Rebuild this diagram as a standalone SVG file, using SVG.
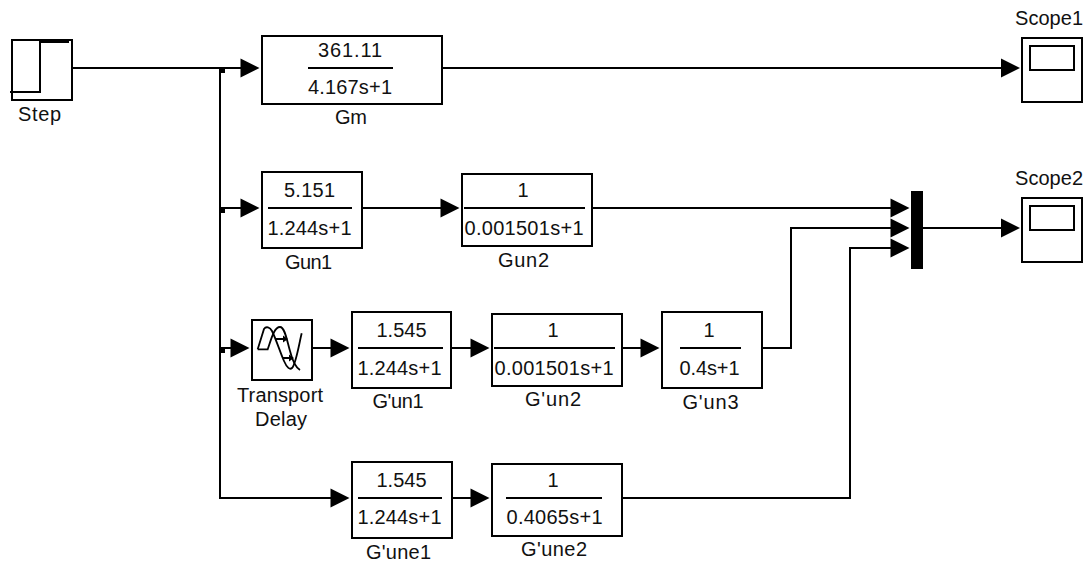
<svg xmlns="http://www.w3.org/2000/svg" width="1091" height="566" viewBox="0 0 1091 566">
<style>
.b{fill:#fff;stroke:#000;stroke-width:2}
.l{fill:none;stroke:#000;stroke-width:2}
.t{fill:none;stroke:#000;stroke-width:1.8}
text{font-family:"Liberation Sans",Arial,sans-serif;font-size:20px;fill:#111;text-anchor:middle}
</style>
<defs>
<path id="a" d="M-19-9.5L0 0L-19 9.5Z" fill="#000"/>
</defs>
<rect width="1091" height="566" fill="#fff"/>
<g id="connectors">
<path class="l" d="M70 68H241M440 68H1002M220 68V498H331M220 208H241M360 208H441M220 348H231M312 348H331M450 348H471M620 348H641M760 348H791V228H891M590 208H891M923 228H1002M450 498H471M620 498H850V248H891"/>
<path d="M220 67h5v6h-5zM220 207h5v6h-5zM220 347h5v6h-5z" fill="#000"/>
<use href="#a" x="259.500" y="68"/><use href="#a" x="259.500" y="208"/><use href="#a" x="249.500" y="348"/><use href="#a" x="349.500" y="348"/><use href="#a" x="489.500" y="348"/><use href="#a" x="659.500" y="348"/><use href="#a" x="349.500" y="498"/><use href="#a" x="489.500" y="498"/><use href="#a" x="459.500" y="208"/><use href="#a" x="1020" y="68"/><use href="#a" x="1020" y="228"/><use href="#a" x="909.500" y="208"/><use href="#a" x="909.500" y="228"/><use href="#a" x="909.500" y="248"/>
</g>
<g id="step"><rect class="b" x="12" y="40" width="60" height="60"/><path class="l" d="M10 92H40V42H69"/><text x="39.500" y="120.500" textLength="43">Step</text></g>
<g id="gm"><rect class="b" x="262" y="36" width="180" height="68"/><path class="l" d="M308 68H393"/><text x="350" y="57" textLength="64">361.11</text><text x="350" y="94" textLength="84">4.167s+1</text><text x="351" y="124" textLength="32">Gm</text></g>
<g id="gun1"><rect class="b" x="262" y="172" width="100" height="76"/><path class="l" d="M268 208H352"/><text x="309.500" y="197" textLength="51">5.151</text><text x="309.500" y="235" textLength="84">1.244s+1</text><text x="308.500" y="269" textLength="47">Gun1</text></g>
<g id="gun2"><rect class="b" x="462" y="174" width="130" height="72"/><path class="l" d="M464 208H585"/><text x="523" y="197">1</text><text x="524" y="235" textLength="119">0.001501s+1</text><text x="523.500" y="267" textLength="51">Gun2</text></g>
<g id="delay"><rect class="b" x="252" y="320" width="60" height="60"/><path class="t" d="M257.700 349.300L264 329C266 326 270 327 272 331C276 339 280 352 284 361C287 368 290 370 292 368C296 364 299 344 301.700 333.300"/><path class="t" d="M257.700 349.300H267.700C271 340 274 327 280 327C285 327 287 341 290 351C292 359 295 367 300 370"/><path class="t" d="M276 339H284M283 358H290"/><path d="M283 335.500L288 339L283 342.500ZM289 354.500L294 358L289 361.500Z" fill="#000"/><text x="280" y="401.500" textLength="86">Transport</text><text x="281" y="426" textLength="52">Delay</text></g>
<g id="gpun1"><rect class="b" x="352" y="312" width="99" height="76"/><path class="l" d="M358 348H443"/><text x="401.500" y="337" textLength="50">1.545</text><text x="399.500" y="375" textLength="84">1.244s+1</text><text x="398" y="408" textLength="51">G'un1</text></g>
<g id="gpun2"><rect class="b" x="492" y="314" width="130" height="72"/><path class="l" d="M494 348H615"/><text x="553" y="337">1</text><text x="554" y="374.500" textLength="119">0.001501s+1</text><text x="553" y="406" textLength="56">G'un2</text></g>
<g id="gpun3"><rect class="b" x="662" y="312" width="100" height="76"/><path class="l" d="M680 348H741"/><text x="709" y="337">1</text><text x="709.500" y="374.500" textLength="60">0.4s+1</text><text x="710.500" y="409" textLength="56">G'un3</text></g>
<g id="gpune1"><rect class="b" x="352" y="462" width="100" height="76"/><path class="l" d="M358 498H442"/><text x="401.500" y="487" textLength="50">1.545</text><text x="399.500" y="524" textLength="84">1.244s+1</text><text x="398.500" y="559" textLength="65">G'une1</text></g>
<g id="gpune2"><rect class="b" x="492" y="464" width="130" height="72"/><path class="l" d="M506 498H602"/><text x="553" y="487">1</text><text x="554.500" y="524" textLength="96">0.4065s+1</text><text x="554" y="556" textLength="66">G'une2</text></g>
<g id="mux"><rect x="911" y="191" width="12" height="78" fill="#000"/></g>
<g id="scope1"><rect class="b" x="1022" y="38" width="60" height="64"/><rect class="b" x="1030" y="46" width="44" height="24"/><text x="1049" y="25" textLength="68">Scope1</text></g>
<g id="scope2"><rect class="b" x="1022" y="198" width="60" height="64"/><rect class="b" x="1030" y="206" width="44" height="24"/><text x="1049" y="185" textLength="68">Scope2</text></g>
</svg>
